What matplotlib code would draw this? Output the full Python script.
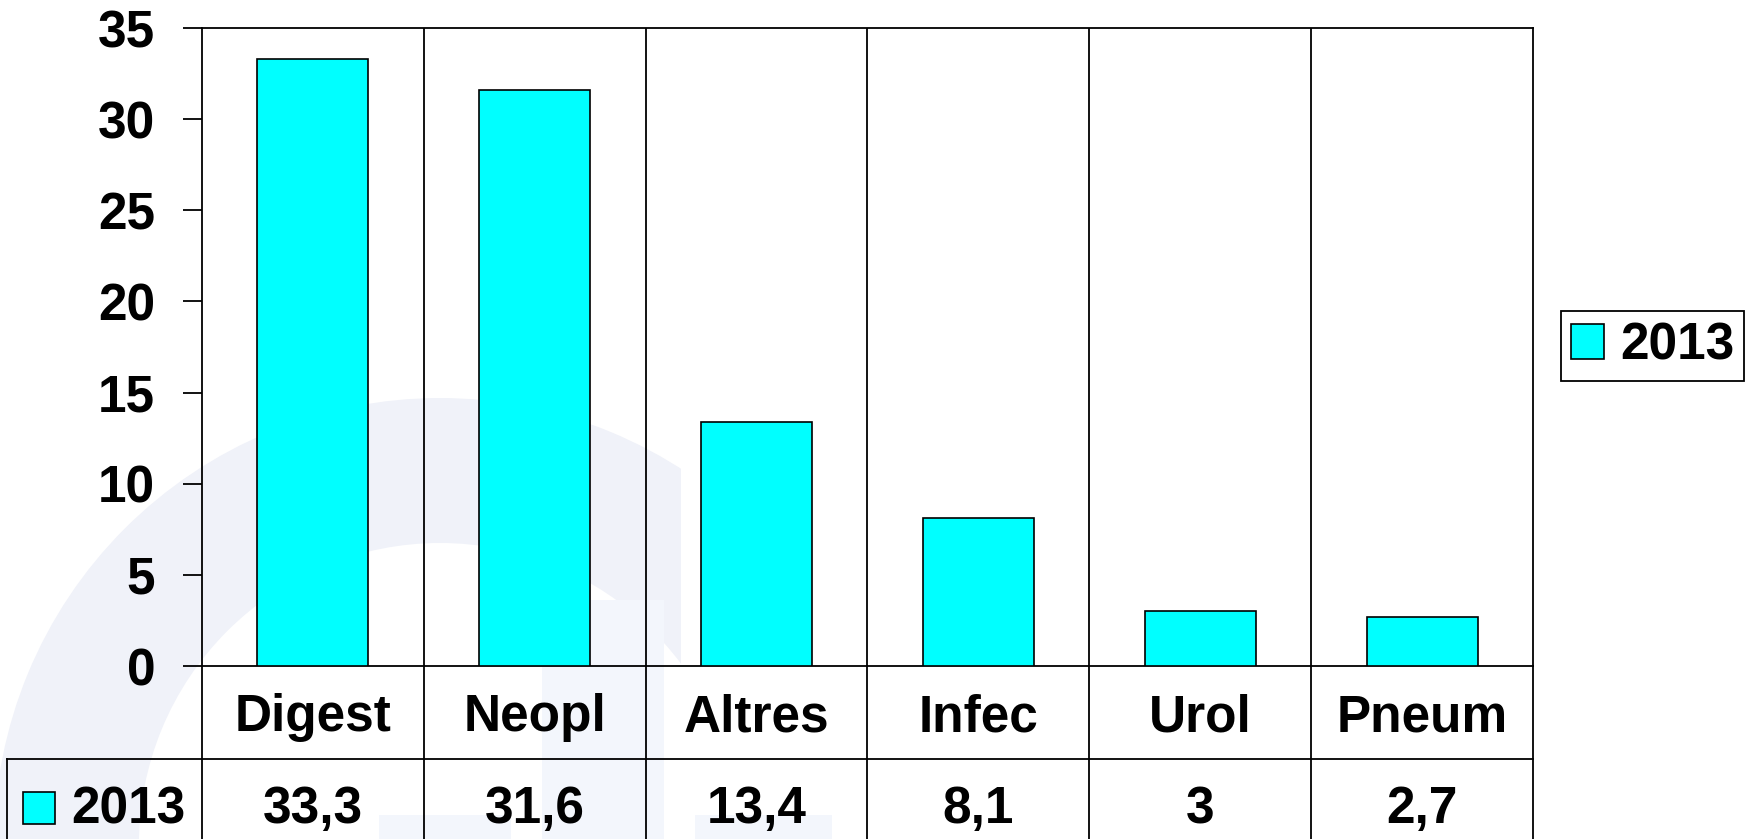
import matplotlib
matplotlib.use("Agg")
import matplotlib.pyplot as plt
from matplotlib.patches import Rectangle, Wedge
from matplotlib.lines import Line2D
from matplotlib.transforms import Affine2D, blended_transform_factory

# Data
categories = ["Digest", "Neopl", "Altres", "Infec", "Urol", "Pneum"]
values_2013 = [33.3, 31.6, 13.4, 8.1, 3, 2.7]
series_name = "2013"
y_ticks = [0, 5, 10, 15, 20, 25, 30, 35]

plt.rcParams["font.family"] = ["Liberation Sans", "DejaVu Sans"]
plt.rcParams["font.weight"] = "bold"

W, H = 1759, 839
FS = 37
CYAN = "#00ffff"
LW = 1.3

# plot box in pixels (y measured from the top)
LEFT, RIGHT, TOP, ZERO = 202, 1533, 28, 666
ROW_SPLIT = 758.5
TABLE_LEFT = 7

fig = plt.figure(figsize=(W / 100, H / 100), dpi=100)
fig.patch.set_facecolor("white")
px = Affine2D().scale(1 / W, -1 / H).translate(0, 1) + fig.transFigure

# faint logo in the background
wm = "#f0f2f9"
clip = Rectangle((0, 0), 681, H, transform=px)
ring = Wedge((440, 844), 446, 0, 360, width=145, facecolor=wm,
             edgecolor="none", transform=px, zorder=-2)
ring.set_clip_path(clip)
fig.add_artist(ring)
for x0, y0, x1, y1 in [(542, 600, 664, H), (379, 815, 511, H), (695, 815, 832, H)]:
    fig.add_artist(Rectangle((x0, y0), x1 - x0, y1 - y0, facecolor="#f3f6fc",
                             edgecolor="none", transform=px, zorder=-2))

ax = fig.add_axes([LEFT / W, 1 - ZERO / H, (RIGHT - LEFT) / W, (ZERO - TOP) / H])
ax.set_facecolor("none")

x = list(range(len(categories)))
ax.bar(x, values_2013, width=0.5, color=CYAN, edgecolor="black",
       linewidth=1.2, label=series_name, zorder=3)
ax.set_xlim(-0.5, len(categories) - 0.5)
ax.set_ylim(0, 35)

# category separators inside the plot
for k in range(1, len(categories)):
    ax.axvline(k - 0.5, color="black", lw=LW, zorder=2)

ax.set_xticks([])
ax.set_yticks(y_ticks)
ax.tick_params(axis="y", length=13.7, width=LW, pad=20, labelsize=FS)
for sp in ax.spines.values():
    sp.set_linewidth(LW)

# data table under the chart
tr = blended_transform_factory(ax.transData, px)
for k in range(len(categories) + 1):
    fig.add_artist(Line2D([k - 0.5, k - 0.5], [ZERO, H], color="black",
                          lw=LW, transform=tr))
fig.add_artist(Line2D([TABLE_LEFT, RIGHT], [ROW_SPLIT, ROW_SPLIT],
                      color="black", lw=LW, transform=px))
fig.add_artist(Line2D([TABLE_LEFT, TABLE_LEFT], [ROW_SPLIT, H],
                      color="black", lw=LW, transform=px))

for i, (cat, val) in enumerate(zip(categories, values_2013)):
    ax.text(i, 731, cat, transform=tr, ha="center", va="baseline",
            fontsize=FS, clip_on=False)
    ax.text(i, 823, f"{val:g}".replace(".", ","), transform=tr,
            ha="center", va="baseline", fontsize=FS, clip_on=False)

fig.add_artist(Rectangle((23, 792), 32, 32, facecolor=CYAN, edgecolor="black",
                         lw=1.2, transform=px))
fig.text(71 / W, 1 - 823 / H, series_name, ha="left", va="baseline", fontsize=FS)

leg = ax.legend(loc="center", bbox_to_anchor=(1652.5 / W, 1 - 346 / H),
                bbox_transform=fig.transFigure, fontsize=FS, frameon=True,
                fancybox=False, edgecolor="black", framealpha=1,
                handlelength=0.65, handleheight=0.65, handletextpad=0.3,
                borderpad=0.2, borderaxespad=0)
leg.get_frame().set_linewidth(LW)

fig.savefig("out.png", dpi=100, facecolor="white")
